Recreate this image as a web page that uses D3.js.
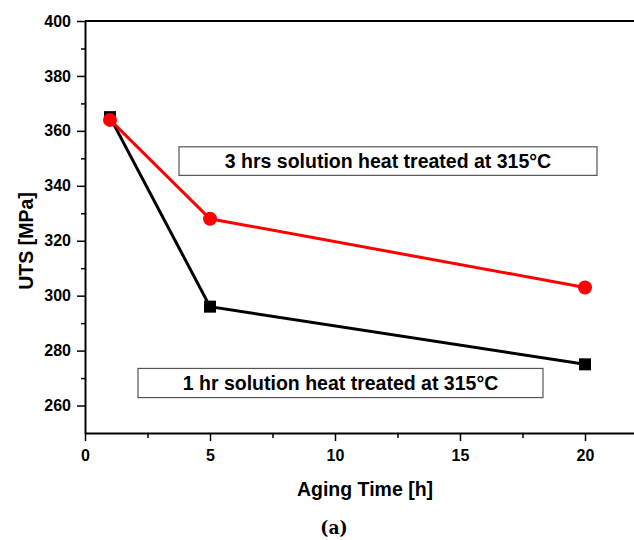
<!DOCTYPE html>
<html>
<head>
<meta charset="utf-8">
<script src="https://cdn.jsdelivr.net/npm/d3@7"></script>
<style>
	body { margin: 0; background: #fff; }
	text { font-family: "Liberation Sans", Arial, sans-serif; font-weight: bold; }
	.x-axis text, .y-axis text { font-size: 16px; fill: #000; }
</style>
</head>
<body>
<div id="chart"></div>
<script>
///////////////////////////////////////////////////////////////////////////
//////////////////////////// data /////////////////////////////////////////
///////////////////////////////////////////////////////////////////////////

const agingTime = [1, 5, 20];
const uts1hr = [365, 296, 275];
const uts3hrs = [364, 328, 303];

const xTicks = [0, 5, 10, 15, 20];
const xMinorTicks = [2.5, 7.5, 12.5, 17.5];
const yTicks = [260, 280, 300, 320, 340, 360, 380, 400];
const yMinorTicks = [270, 290, 310, 330, 350, 370, 390];

const label3hrs = "3 hrs solution heat treated at 315°C";
const label1hr = "1 hr solution heat treated at 315°C";

///////////////////////////////////////////////////////////////////////////
//////////////////////////// set up svg ///////////////////////////////////
///////////////////////////////////////////////////////////////////////////

const width = 634;
const height = 540;
const margin = { top: 21, right: 0, bottom: 107, left: 85 };

const svg = d3.select("#chart")
	.append("svg")
	.attr("width", width)
	.attr("height", height);

///////////////////////////////////////////////////////////////////////////
//////////////////////////// scales ///////////////////////////////////////
///////////////////////////////////////////////////////////////////////////

const xScale = d3.scaleLinear()
	.domain([0, 22])
	.range([margin.left, margin.left + 22 * 25]);

const yScale = d3.scaleLinear()
	.domain([250, 400])
	.range([height - margin.bottom, margin.top]);

///////////////////////////////////////////////////////////////////////////
//////////////////////////// axes /////////////////////////////////////////
///////////////////////////////////////////////////////////////////////////

// top frame line
svg.append("line")
	.attr("x1", xScale(0))
	.attr("x2", xScale(22))
	.attr("y1", yScale(400))
	.attr("y2", yScale(400))
	.attr("stroke", "#000")
	.attr("stroke-width", 2);

// minor ticks first, major on top
svg.append("g")
	.attr("transform", `translate(0,${yScale(250)})`)
	.call(d3.axisBottom(xScale).tickValues(xMinorTicks).tickSize(5).tickFormat(""))
	.call((g) => g.select(".domain").remove());
svg.append("g")
	.attr("transform", `translate(${xScale(0)},0)`)
	.call(d3.axisLeft(yScale).tickValues(yMinorTicks).tickSize(4).tickFormat(""))
	.call((g) => g.select(".domain").remove());

svg.append("g")
	.classed("x-axis", true)
	.attr("transform", `translate(0,${yScale(250)})`)
	.call(d3.axisBottom(xScale).tickValues(xTicks).tickSize(8).tickSizeOuter(0).tickPadding(9))
	.attr("font-size", null)
	.attr("font-family", null);

svg.append("g")
	.classed("y-axis", true)
	.attr("transform", `translate(${xScale(0)},0)`)
	.call(d3.axisLeft(yScale).tickValues(yTicks).tickSize(8).tickSizeOuter(0).tickPadding(6))
	.attr("font-size", null)
	.attr("font-family", null);

svg.selectAll(".domain").attr("stroke-width", 2);
svg.selectAll(".tick line").attr("stroke-width", 1.5);

// axis titles
svg.append("text")
	.attr("x", 365)
	.attr("y", 496)
	.attr("text-anchor", "middle")
	.style("font-size", "19.5px")
	.text("Aging Time [h]");

svg.append("text")
	.attr("transform", "translate(33,241) rotate(-90)")
	.attr("text-anchor", "middle")
	.style("font-size", "19.5px")
	.text("UTS [MPa]");

// panel label
svg.append("text")
	.attr("x", 334)
	.attr("y", 534)
	.attr("text-anchor", "middle")
	.style("font-size", "19px")
	.style("font-family", "'DejaVu Serif Condensed', 'DejaVu Serif', serif")
	.text("(a)");

///////////////////////////////////////////////////////////////////////////
//////////////////////////// plot /////////////////////////////////////////
///////////////////////////////////////////////////////////////////////////

const line = d3.line()
	.x((d) => xScale(d[0]))
	.y((d) => yScale(d[1]));

const series1hr = agingTime.map((t, i) => [t, uts1hr[i]]);
const series3hrs = agingTime.map((t, i) => [t, uts3hrs[i]]);

svg.append("path")
	.datum(series1hr)
	.attr("d", line)
	.attr("fill", "none")
	.attr("stroke", "#000")
	.attr("stroke-width", 3);

svg.append("path")
	.datum(series3hrs)
	.attr("d", line)
	.attr("fill", "none")
	.attr("stroke", "#ff0000")
	.attr("stroke-width", 3);

// squares
svg.selectAll("rect.sq")
	.data(series1hr)
	.enter()
	.append("rect")
	.classed("sq", true)
	.attr("x", (d) => xScale(d[0]) - 6)
	.attr("y", (d) => yScale(d[1]) - 6)
	.attr("width", 12)
	.attr("height", 12)
	.attr("fill", "#000");

// circles
svg.selectAll("circle.dot")
	.data(series3hrs)
	.enter()
	.append("circle")
	.classed("dot", true)
	.attr("cx", (d) => xScale(d[0]))
	.attr("cy", (d) => yScale(d[1]))
	.attr("r", 7)
	.attr("fill", "#ff0000");

///////////////////////////////////////////////////////////////////////////
//////////////////////////// annotations //////////////////////////////////
///////////////////////////////////////////////////////////////////////////

// box corners in data units: x0, x1, y top, y bottom
function addBox(text, x0, x1, yTop, yBottom) {
	const left = xScale(x0), right = xScale(x1);
	const top = yScale(yTop), bottom = yScale(yBottom);
	svg.append("rect")
		.attr("x", left)
		.attr("y", top)
		.attr("width", right - left)
		.attr("height", bottom - top)
		.attr("fill", "#fff")
		.attr("stroke", "#555")
		.attr("stroke-width", 1.2);
	svg.append("text")
		.attr("x", (left + right) / 2)
		.attr("y", (top + bottom) / 2 + 7)
		.attr("text-anchor", "middle")
		.style("font-size", "19.5px")
		.text(text);
}

addBox(label3hrs, 3.76, 20.48, 354.2, 343.8);
addBox(label1hr, 2.12, 18.32, 273.5, 262.9);
</script>
</body>
</html>
